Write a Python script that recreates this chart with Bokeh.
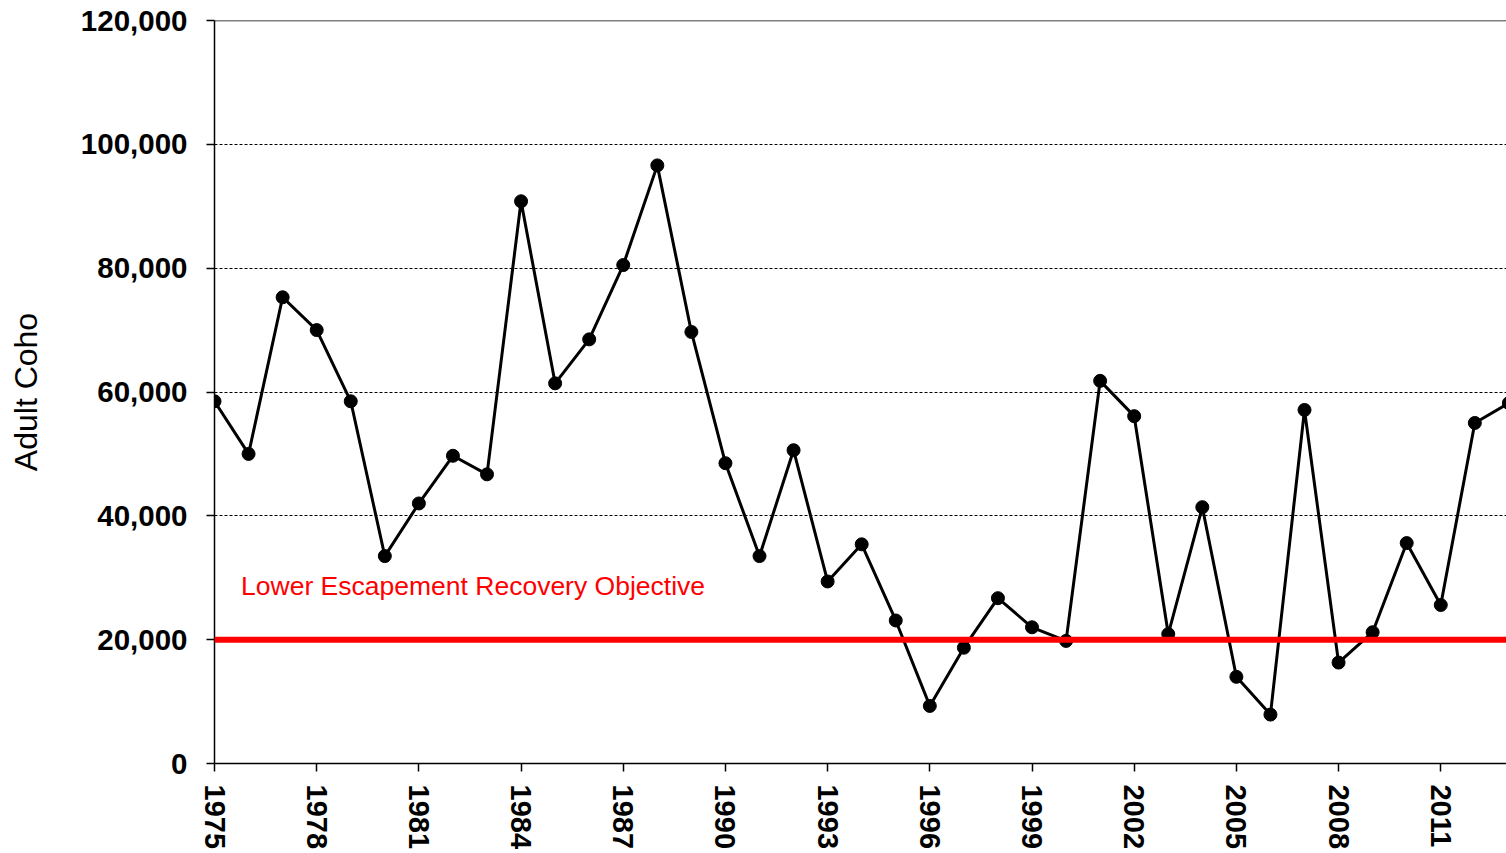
from bokeh.plotting import figure
from bokeh.models import Span, Label, FixedTicker, NumeralTickFormatter, ColumnDataSource
from bokeh.embed import file_html
from bokeh.resources import INLINE

years = list(range(1975, 2014))
adult_coho = [58500, 50000, 75300, 70000, 58500, 33500, 42000, 49700, 46700, 90800,
              61400, 68500, 80500, 96600, 69700, 48500, 33500, 50600, 29400, 35400,
              23100, 9300, 18700, 26700, 22000, 19800, 61800, 56100, 20900, 41400,
              14000, 7900, 57100, 16300, 21200, 35600, 25600, 55000, 58200]
objective = 20000
objective_label = "Lower Escapement Recovery Objective"
y_title = "Adult Coho"
y_ticks = [0, 20000, 40000, 60000, 80000, 100000, 120000]
x_ticks = list(range(1975, 2012, 3))

FONT = "Liberation Sans"

p = figure(frame_width=1292, frame_height=743, output_backend="svg", toolbar_location=None,
           x_range=(1975, 2012.93), y_range=(0, 120000),
           min_border_left=214, min_border_right=0, min_border_top=20, min_border_bottom=40)
p.outline_line_color = None
p.background_fill_color = "white"

# grid
p.xgrid.grid_line_color = None
p.ygrid.ticker = FixedTicker(ticks=[40000, 60000, 80000, 100000])
p.ygrid.grid_line_color = "black"
p.ygrid.grid_line_width = 1
p.ygrid.grid_line_dash = "3 2"

top = Span(location=120000, dimension="width", line_color="black", line_width=1.5)
p.add_layout(top)

red = Span(location=objective, dimension="width", line_color="#ff0000", line_width=6)
p.add_layout(red)

src = ColumnDataSource(data=dict(x=years, y=adult_coho))
p.line("x", "y", source=src, line_color="black", line_width=3)
p.scatter("x", "y", source=src, size=13, fill_color="black", line_color="black")

lbl = Label(x=1975.78, y=28700, text=objective_label, text_color="#ff0000",
            text_font=FONT, text_font_size="26.5px", text_baseline="alphabetic")
p.add_layout(lbl)

# y axis
ya = p.yaxis[0]
ya.ticker = FixedTicker(ticks=y_ticks)
ya.formatter = NumeralTickFormatter(format="0,0")
ya.major_label_text_font = FONT
ya.major_label_text_font_style = "bold"
ya.major_label_text_font_size = "29.5px"
ya.major_label_text_color = "black"
ya.major_label_standoff = 19
ya.major_tick_out = 8
ya.major_tick_in = 0
ya.minor_tick_out = 0
ya.minor_tick_in = 0
ya.axis_line_width = 1.5
ya.major_tick_line_width = 1.5
ya.axis_label = y_title
ya.axis_label_text_font = FONT
ya.axis_label_text_font_style = "normal"
ya.axis_label_text_font_size = "32px"
ya.axis_label_text_color = "black"
ya.axis_label_standoff = 34

# x axis
xa = p.xaxis[0]
xa.ticker = FixedTicker(ticks=x_ticks)
xa.major_label_orientation = "vertical"
xa.major_label_text_font = FONT
xa.major_label_text_font_style = "bold"
xa.major_label_text_font_size = "29px"
xa.major_label_text_color = "black"
xa.major_label_standoff = 13
xa.major_tick_out = 8
xa.major_tick_in = 0
xa.minor_tick_out = 0
xa.minor_tick_in = 0
xa.axis_line_width = 1.5
xa.major_tick_line_width = 1.5

open("out.html", "w").write(file_html(p, INLINE))
